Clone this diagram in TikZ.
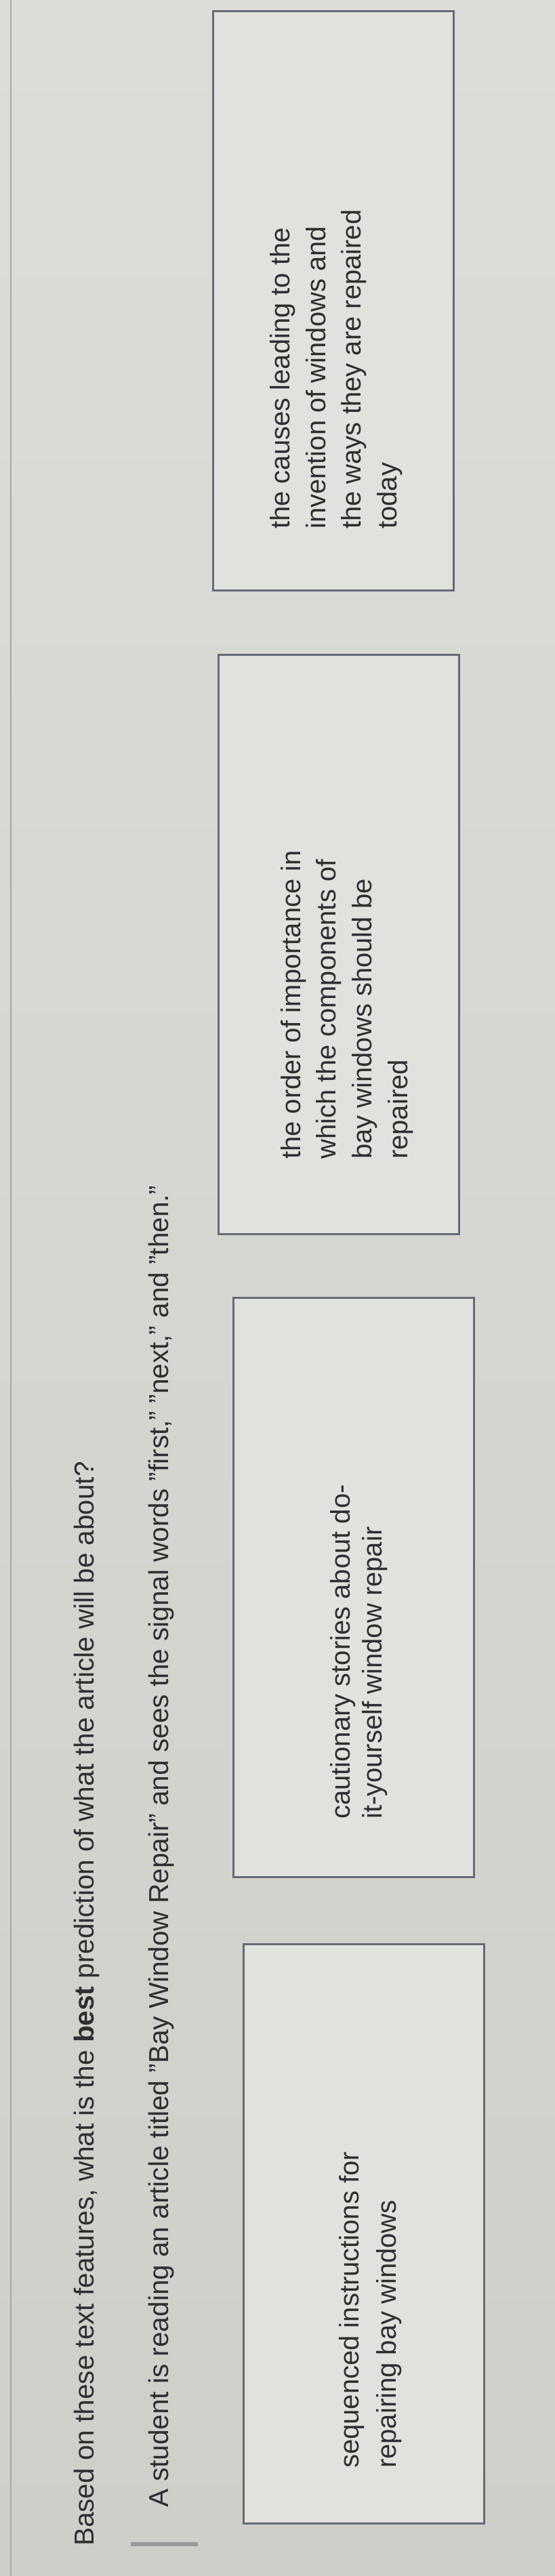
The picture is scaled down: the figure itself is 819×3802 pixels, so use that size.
\documentclass[tikz,border=0pt]{standalone}
\usepackage{fontspec}
\setmainfont{Liberation Sans}
\definecolor{bgA}{HTML}{DCDCD8}
\definecolor{bgB}{HTML}{CFCFCA}
\definecolor{boxfill}{HTML}{E1E1DD}
\definecolor{boxline}{HTML}{656A78}
\definecolor{ink}{HTML}{2E2E33}
\begin{document}
\begin{tikzpicture}[x=1pt,y=-1pt,
  box/.style={draw=boxline,line width=3pt,fill=boxfill,minimum width=355pt,minimum height=855pt,inner sep=0pt},
  qtext/.style={rotate=90,anchor=base west,inner sep=0pt,text=ink,font=\fontsize{40.5}{46}\selectfont},
  atext/.style={rotate=90,anchor=base west,inner sep=0pt,text=ink,font=\fontsize{40}{46}\selectfont}]
\useasboundingbox (0,0) rectangle (819,3802);
\shade[top color=bgA,bottom color=bgB] (0,0) rectangle (819,3802);
\draw[draw=gray!70,line width=2pt] (16,0) -- (16,3802);
\draw[draw=gray!80,line width=6pt] (193,3755) -- (292,3755);
% question
\node[qtext] (q1) at (138,3758) {Based on these text features, what is the \textbf{best} prediction of what the article will be about?};
\node[qtext] (q2) at (248,3701) {A student is reading an article titled "Bay Window Repair" and sees the signal words "first," "next," and "then."};
% boxes
\node[box] (b1) at (537,3297) {};
\node[box] (b2) at (522,2343) {};
\node[box] (b3) at (500,1394) {};
\node[box] (b4) at (492,444) {};
% answer texts
\node[atext] (t1a) at (529,3643) {sequenced instructions for};
\node[atext] (t1b) at (584,3643) {repairing bay windows};
\node[atext] (t2a) at (516,2685) {cautionary stories about do-};
\node[atext] (t2b) at (563,2685) {it-yourself window repair};
\node[atext] (t3a) at (443,1711) {the order of importance in};
\node[atext] (t3b) at (495,1711) {which the components of};
\node[atext] (t3c) at (548,1711) {bay windows should be};
\node[atext] (t3d) at (601,1711) {repaired};
\node[atext] (t4a) at (427,781) {the causes leading to the};
\node[atext] (t4b) at (480,781) {invention of windows and};
\node[atext] (t4c) at (532,781) {the ways they are repaired};
\node[atext] (t4d) at (585,781) {today};
\end{tikzpicture}
\end{document}
